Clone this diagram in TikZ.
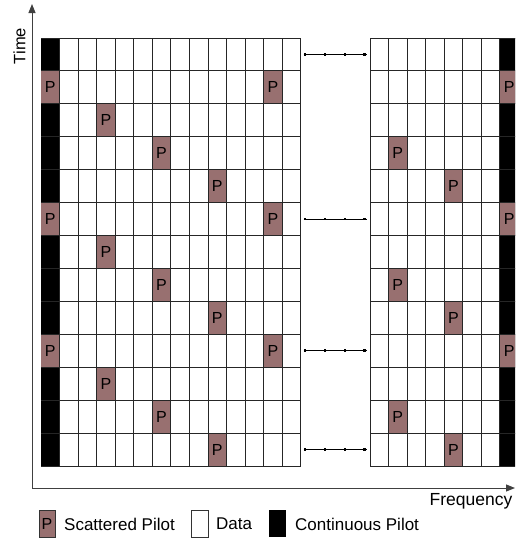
\documentclass[tikz,border=0pt]{standalone}
\usepackage{fontspec}
\setmainfont{Liberation Sans}
\usetikzlibrary{arrows.meta}
\definecolor{pilot}{RGB}{152,112,112}
\tikzset{
  gridline/.style={draw=black!85,line width=0.9pt},
  axisline/.style={draw=black!75,line width=1pt,-{Triangle[length=9pt,width=7pt]}},
  ptext/.style={font=\fontsize{16}{16}\selectfont,inner sep=0pt},
  legtext/.style={font=\fontsize{17}{17}\selectfont,anchor=west,inner sep=0pt},
  dotline/.style={draw=black,line width=0.9pt},
  dotmark/.style={fill=black,minimum size=2.6pt,inner sep=0pt}
}
\newcommand{\Wc}{18.55}
\newcommand{\Hr}{32.923}
\newcommand{\pcell}[4]{% x0, row, col, name
  \fill[pilot] ({#1+(#3)*\Wc},{38+(#2)*\Hr}) rectangle ({#1+(#3+1)*\Wc},{38+(#2+1)*\Hr});
  \node[ptext] (#4) at ({#1+(#3+0.5)*\Wc},{38+(#2+0.5)*\Hr}) {P};
}
\begin{document}
\begin{tikzpicture}[x=1pt,y=-1pt]
\useasboundingbox (0,0) rectangle (515,538);
\clip (0,0) rectangle (515,538);
% continuous pilot columns
\fill[black] (41,38) rectangle ({41+\Wc},466);
\fill[black] ({370+7*\Wc},38) rectangle ({370+8*\Wc},466);
% scattered pilots
\foreach \m in {0,1,2}{
  \pcell{41}{1+4*\m}{0}{lA\m}
  \pcell{41}{1+4*\m}{12}{lB\m}
  \pcell{41}{2+4*\m}{3}{lC\m}
  \pcell{41}{3+4*\m}{6}{lD\m}
  \pcell{41}{4+4*\m}{9}{lE\m}
  \pcell{370}{1+4*\m}{7}{rA\m}
  \pcell{370}{3+4*\m}{1}{rB\m}
  \pcell{370}{4+4*\m}{4}{rC\m}
}
% grid lines left block
\foreach \c in {1,...,14}{
  \draw[gridline] ({41+\c*\Wc},38) -- ({41+\c*\Wc},466);
}
\foreach \r in {0,...,13}{
  \draw[gridline] (41,{38+\r*\Hr}) -- ({41+14*\Wc},{38+\r*\Hr});
}
% grid lines right block
\foreach \c in {0,...,7}{
  \draw[gridline] ({370+\c*\Wc},38) -- ({370+\c*\Wc},466);
}
\foreach \r in {0,...,13}{
  \draw[gridline] (370,{38+\r*\Hr}) -- ({370+8*\Wc},{38+\r*\Hr});
}
% ellipsis lines between blocks
\foreach \r/\n in {0/a,5/b,9/c,12/d}{
  \coordinate (e\n1) at (303.5,{38+(\r+0.5)*\Hr});
  \coordinate (e\n2) at (367,{38+(\r+0.5)*\Hr});
  \draw[dotline] (e\n1) -- (e\n2);
  \foreach \xx in {305,325,345,364.5}{
    \node[dotmark] at (\xx,{38+(\r+0.5)*\Hr}) {};
  }
}
% axes
\coordinate (O) at (32,488);
\coordinate (T) at (32,4);
\coordinate (F) at (515,488);
\draw[axisline] (O) -- (T);
\draw[axisline] (O) -- (F);
\node[font=\fontsize{16.5}{16.5}\selectfont,rotate=90,inner sep=0pt] (time) at (19.5,46) {Time};
\node[font=\fontsize{17.5}{17.5}\selectfont,inner sep=0pt,anchor=base] (freq) at (471,505) {Frequency};
% legend
\fill[pilot] (39,510) rectangle (55,537);
\draw[black!80,line width=0.8pt] (39,510) rectangle (55,537);
\node[ptext] (lp) at (47,523.5) {P};
\node[legtext] (ls) at (64,524) {Scattered Pilot};
\draw[black!80,line width=0.8pt,fill=white] (191,510) rectangle (208,537);
\node[legtext] (ld) at (216,524) {Data};
\fill[black] (269,510) rectangle (286,537);
\node[legtext] (lc) at (295,524) {Continuous Pilot};
\end{tikzpicture}
\end{document}
